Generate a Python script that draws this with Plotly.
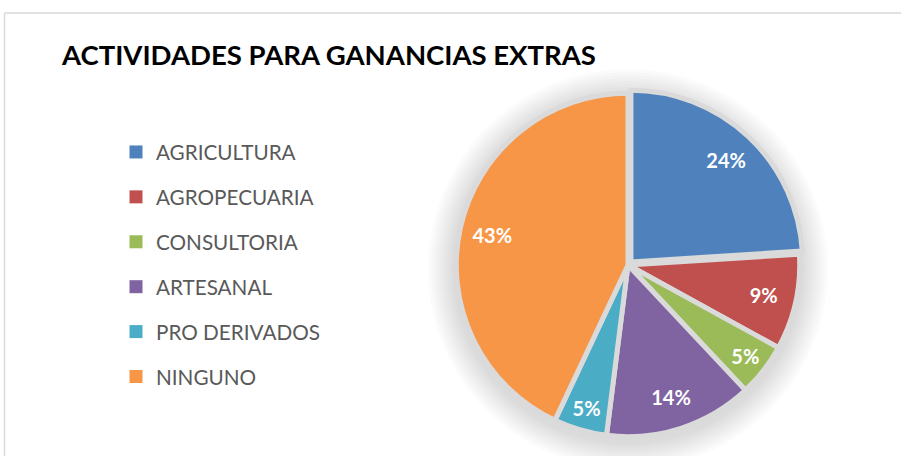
import plotly.graph_objects as go

# ---- data ----
categories = ["AGRICULTURA", "AGROPECUARIA", "CONSULTORIA", "ARTESANAL", "PRO DERIVADOS", "NINGUNO"]
values = [24, 9, 5, 14, 5, 43]
colors = ["#4F81BD", "#C0504D", "#9BBB59", "#8064A2", "#4BACC6", "#F79646"]
pulls = [0.025, 0, 0, 0, 0, 0]
title_text = "ACTIVIDADES PARA GANANCIAS EXTRAS"

W, H = 901, 456
# pie geometry in pixels (styling)
cx, cy, r = 628, 265, 176

fig = go.Figure()

# soft shadow halo behind pie
for i in range(9):
    rr = r + i * 3
    fig.add_shape(type="circle", xref="paper", yref="paper",
                  x0=(cx - rr) / W, x1=(cx + rr) / W,
                  y0=1 - (cy + 4 + rr) / H, y1=1 - (cy + 4 - rr) / H,
                  fillcolor="rgba(0,0,0,0.016)", line=dict(width=0), layer="below")

dom = dict(x=[(cx - r) / W, (cx + r) / W], y=[1 - (cy + r) / H, 1 - (cy - r) / H])

# coloured slices
fig.add_trace(go.Pie(
    labels=categories, values=values, sort=False, direction="clockwise", rotation=0,
    pull=pulls,
    marker=dict(colors=colors, line=dict(color="#DADADA", width=5)),
    textinfo="none", domain=dom, showlegend=False, hoverinfo="label+percent",
))
# transparent ring carrying the percentage labels (places them at ~0.8 r)
fig.add_trace(go.Pie(
    labels=categories, values=values, sort=False, direction="clockwise", rotation=0,
    hole=0.62, pull=pulls,
    marker=dict(colors=["rgba(0,0,0,0)"] * len(values), line=dict(width=0)),
    texttemplate="%{percent:.0%}", textposition="inside",
    insidetextorientation="horizontal",
    textfont=dict(family="Lato", size=20, color="white", weight="bold"),
    domain=dom, showlegend=False, hoverinfo="skip",
))

# legend entries via dummy traces (one group each so gaps can be set)
for c, col in zip(categories, colors):
    fig.add_trace(go.Scatter(x=[None], y=[None], mode="markers", name=c,
                             legendgroup=c,
                             marker=dict(symbol="square", size=13, color=col)))

fig.update_layout(
    width=W, height=H, margin=dict(l=0, r=0, t=0, b=0),
    paper_bgcolor="white", plot_bgcolor="white",
    xaxis=dict(visible=False), yaxis=dict(visible=False),
    title=dict(text="<b>" + title_text + "</b>", x=62 / W, xanchor="left",
               y=1 - 55 / H, yanchor="middle",
               font=dict(family="Lato", size=27.5, color="#000000")),
    legend=dict(x=116 / W, xanchor="left", y=1 - 132 / H, yanchor="top",
                font=dict(family="Lato", size=20.7, color="#595959"),
                tracegroupgap=15, bgcolor="rgba(0,0,0,0)"),
    shapes=list(fig.layout.shapes) + [
        dict(type="line", xref="paper", yref="paper", x0=4.5 / W, x1=4.5 / W,
             y0=0, y1=1 - 13 / H, line=dict(color="#D9D9D9", width=1.5)),
        dict(type="line", xref="paper", yref="paper", x0=4.5 / W, x1=1,
             y0=1 - 13 / H, y1=1 - 13 / H, line=dict(color="#D9D9D9", width=1.5)),
    ],
)

fig.write_html("out.html", config={"displayModeBar": False},
               post_script="document.body.style.margin='0';")
